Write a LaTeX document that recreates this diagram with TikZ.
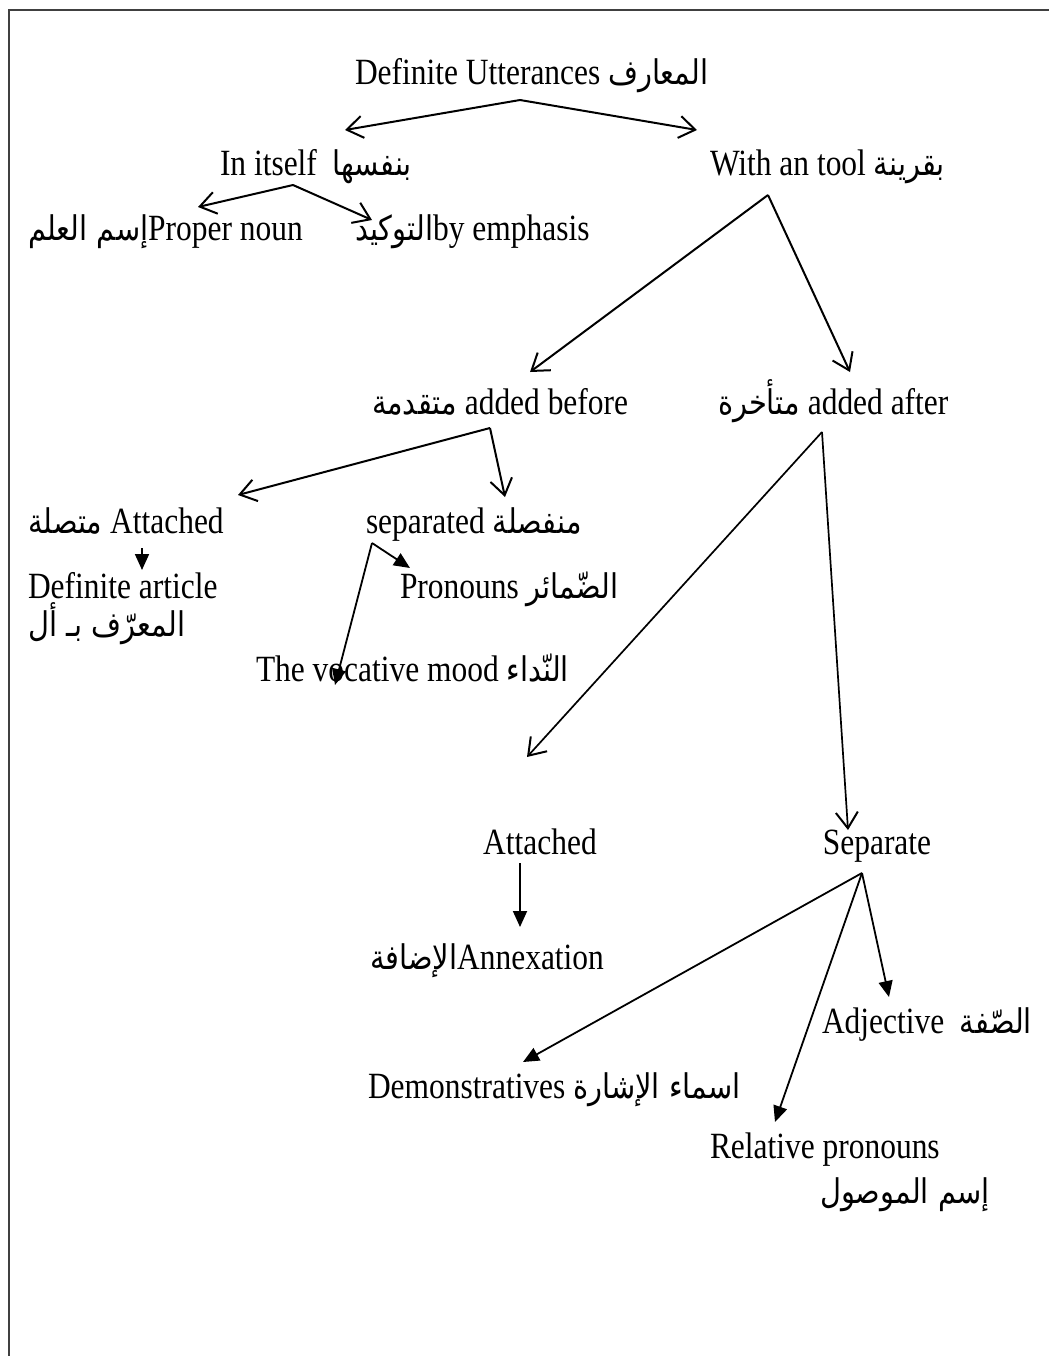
\documentclass[tikz,border=0pt]{standalone}
\usepackage{fontspec}
\setmainfont{Liberation Serif}[FakeStretch=0.85]
\newfontfamily\arfont[Script=Arabic,FakeStretch=0.85]{DejaVu Sans}
\TeXXeTstate=1
\usetikzlibrary{arrows.meta}
\newcommand\AR[1]{{\arfont\fontsize{17}{20}\selectfont\beginR #1\endR}}
\begin{document}
\begin{tikzpicture}[x=0.5pt,y=-0.5pt,
  lbl/.style={inner sep=0pt, outer sep=0pt, anchor=base west, font=\fontsize{18.5}{22}\selectfont},
  lblc/.style={lbl, anchor=base},
  oarr/.style={line width=1pt, -{Straight Barb[length=8pt,width=11pt,line width=1pt]}},
  oarrt/.style={oarr, line width=0.85pt},
  farr/.style={line width=0.9pt, -{Triangle[length=8pt,width=7pt]}}]
\useasboundingbox (0,0) rectangle (1049,1356);
\fill[white] (0,0) rectangle (1049,1356);
\draw[line width=1pt, black!75] (9,1356) -- (9,10) -- (1049,10);

% nodes
\node[lbl] (def) at (355,84) {Definite Utterances \AR{المعارف}};
\node[lbl] (self) at (220,175) {In itself\ \ \AR{بنفسها}};
\node[lbl] (tool) at (710,175) {With an tool \AR{بقرينة}};
\node[lbl] (proper) at (28,240) {\AR{إسم العلم}Proper noun};
\node[lbl] (emph) at (355,240) {\AR{التوكيد}by emphasis};
\node[lbl] (before) at (372,414) {\AR{متقدمة} added before};
\node[lbl] (after) at (718,414) {\AR{متأخرة} added after};
\node[lbl] (att1) at (28,533) {\AR{متصلة} Attached};
\node[lbl] (sep1) at (366,533) {separated \AR{منفصلة}};
\node[lbl] (defart) at (28,598) {Definite article};
\node[lbl] (defartar) at (28,636) {\AR{المعرّف بـ أل}};
\node[lbl] (pron) at (400,598) {Pronouns \AR{الضّمائر}};
\node[lbl] (voc) at (256,681) {The vocative mood \AR{النّداء}};
\node[lblc] (att2) at (540,854) {Attached};
\node[lblc] (sep2) at (877,854) {Separate};
\node[lbl] (annex) at (370,969) {\AR{الإضافة}Annexation};
\node[lbl] (adj) at (822,1033) {Adjective\ \ \AR{الصّفة}};
\node[lbl] (demo) at (368,1098) {Demonstratives \AR{اسماء الإشارة}};
\node[lbl] (rel) at (710,1158) {Relative pronouns};
\node[lbl] (relar) at (820,1203) {\AR{إسم الموصول}};

% connector points
\coordinate (defA) at (520,100);
\coordinate (selfT) at (345,130);
\coordinate (toolT) at (697,130);
\coordinate (selfA) at (293,185);
\coordinate (properT) at (198,207);
\coordinate (emphT) at (372,220);
\coordinate (toolA) at (768,195);
\coordinate (beforeT) at (530,372);
\coordinate (afterT) at (850,372);
\coordinate (beforeA) at (490,428);
\coordinate (att1T) at (238,495);
\coordinate (sep1T) at (505,497);
\coordinate (att1A) at (142,548);
\coordinate (defartT) at (142,570);
\coordinate (sep1A) at (372,543);
\coordinate (pronT) at (410,568);
\coordinate (vocT) at (335,685);
\coordinate (afterA) at (822,432);
\coordinate (att2T) at (527,757);
\coordinate (sep2T) at (848,830);
\coordinate (att2A) at (520,863);
\coordinate (annexT) at (520,927);
\coordinate (sep2A) at (862,873);
\coordinate (adjT) at (889,997);
\coordinate (demoT) at (523,1062);
\coordinate (relT) at (775,1122);

\draw[oarr] (defA) -- (selfT);
\draw[oarr] (defA) -- (toolT);
\draw[oarr] (selfA) -- (properT);
\draw[oarr] (selfA) -- (emphT);
\draw[oarr] (toolA) -- (beforeT);
\draw[oarr] (toolA) -- (afterT);
\draw[oarr] (beforeA) -- (att1T);
\draw[oarr] (beforeA) -- (sep1T);
\draw[farr] (att1A) -- (defartT);
\draw[farr] (sep1A) -- (pronT);
\draw[farr] (sep1A) -- (vocT);
\draw[oarrt] (afterA) -- (att2T);
\draw[oarrt] (afterA) -- (sep2T);
\draw[farr] (att2A) -- (annexT);
\draw[farr] (sep2A) -- (adjT);
\draw[farr] (sep2A) -- (demoT);
\draw[farr] (sep2A) -- (relT);
\end{tikzpicture}
\end{document}
